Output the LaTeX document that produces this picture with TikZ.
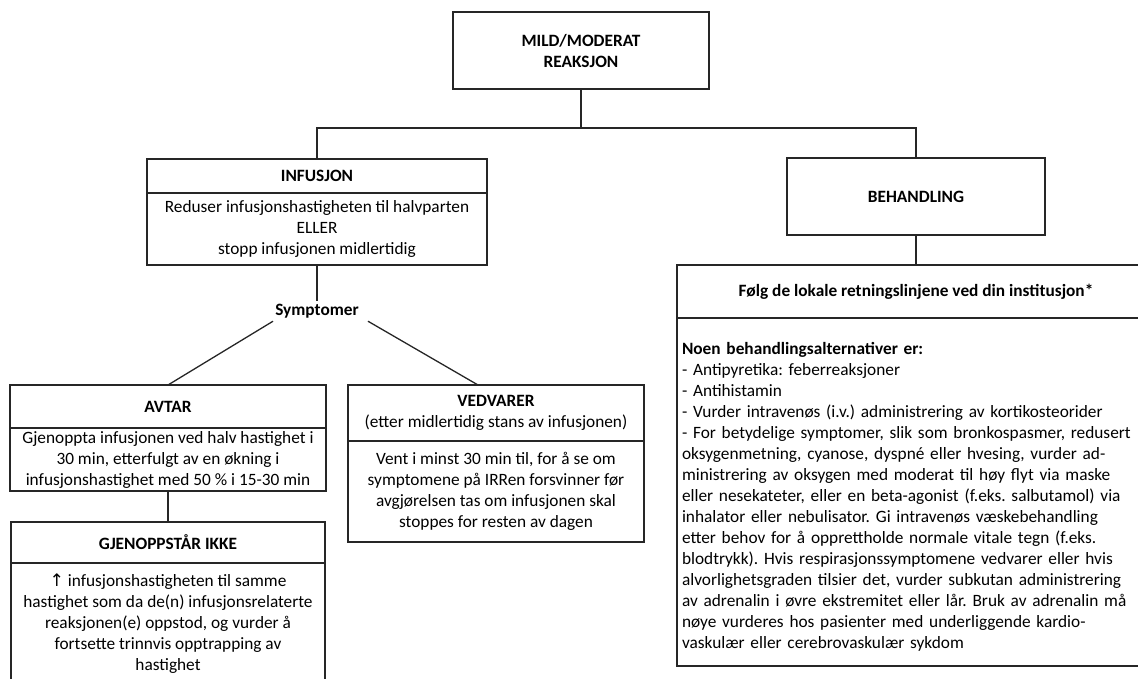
\documentclass[tikz,border=0pt]{standalone}
\usepackage{fontspec}
\setmainfont{Carlito}
\newfontfamily\arrowfont{DejaVu Sans}
\usepackage{tikz}
\usetikzlibrary{positioning}
\frenchspacing

\begin{document}
\begin{tikzpicture}[x=1pt, y=-1pt,
    box/.style={draw=black!85, line width=1.3pt, outer sep=0pt, inner sep=3pt, align=center, font=\fontsize{17.3}{21}\selectfont},
    headbox/.style={box, font=\fontsize{17.3}{21}\selectfont\bfseries},
    link/.style={draw=black!85, line width=1.3pt}]
    \useasboundingbox (0,0) rectangle (1138,679);

    \node [headbox, minimum width=256pt, minimum height=77pt] (reaction) at (581,50.5) {MILD/MODERAT\\REAKSJON};

    \node [headbox, minimum width=340pt, minimum height=34pt] (infusion) at (317,176) {INFUSJON};
    \node [box, below=0pt of infusion, minimum width=340pt, minimum height=72pt] (reduce) {Reduser infusjonshastigheten til halvparten\\ELLER\\stopp infusjonen midlertidig};
    \node [headbox, minimum width=258pt, minimum height=77pt] (treatment) at (916,196.5) {BEHANDLING};

    \node [font=\fontsize{17.3}{21}\selectfont\bfseries, inner sep=3pt] (symptoms) at (317,311) {Symptomer};

    \node [headbox, minimum width=316pt, minimum height=43pt] (decrease) at (168,406.5) {AVTAR};
    \node [box, below=0pt of decrease, minimum width=316pt, minimum height=63pt] (resume) {Gjenoppta infusjonen ved halv hastighet i\\30 min, etterfulgt av en økning i\\infusjonshastighet med 50 \% i 15-30 min};
    \node [headbox, minimum width=314pt, minimum height=41pt] (norecur) at (168,542.5) {GJENOPPSTÅR IKKE};
    \node [box, below=0pt of norecur, minimum width=314pt, minimum height=122pt] (increase) {{\arrowfont ↑} infusjonshastigheten til samme\\hastighet som da de(n) infusjonsrelaterte\\reaksjonen(e) oppstod, og vurder å\\fortsette trinnvis opptrapping av\\hastighet};

    \node [box, minimum width=296pt, minimum height=56pt] (persist) at (496,413) {\textbf{VEDVARER}\\(etter midlertidig stans av infusjonen)};
    \node [box, below=0pt of persist, minimum width=296pt, minimum height=101pt] (wait) {Vent i minst 30 min til, for å se om\\symptomene på IRRen forsvinner før\\avgjørelsen tas om infusjonen skal\\stoppes for resten av dagen};

    \node [headbox, minimum width=478pt, minimum height=53pt] (guidelines) at (916,291.5) {Følg de lokale retningslinjene ved din institusjon*};
    \node [box, below=0pt of guidelines, minimum width=478pt, minimum height=348pt, text width=468pt, align=left] (options) {\rule{0pt}{21pt}\textbf{Noen behandlingsalternativer er:}\\- Antipyretika: feberreaksjoner\\- Antihistamin\\- Vurder intravenøs (i.v.) administrering av kortikosteorider\\- For betydelige symptomer, slik som bronkospasmer, redusert\\oksygenmetning, cyanose, dyspné eller hvesing, vurder ad-\\ministrering av oksygen med moderat til høy flyt via maske\\eller nesekateter, eller en beta-agonist (f.eks. salbutamol) via\\inhalator eller nebulisator. Gi intravenøs væskebehandling\\etter behov for å opprettholde normale vitale tegn (f.eks.\\blodtrykk). Hvis respirasjonssymptomene vedvarer eller hvis\\alvorlighetsgraden tilsier det, vurder subkutan administrering\\av adrenalin i øvre ekstremitet eller lår. Bruk av adrenalin må\\nøye vurderes hos pasienter med underliggende kardio-\\vaskulær eller cerebrovaskulær sykdom};

    \draw [link] (reaction.south) -- ++(0,39) coordinate (bus);
    \draw [link] (infusion.north) |- (bus) -| (treatment.north);
    \draw [link] (reduce.south) -- (symptoms.north);
    \draw [link] ([xshift=-44pt]symptoms.south) -- (decrease.north);
    \draw [link] ([xshift=51pt]symptoms.south) -- ([xshift=-18pt]persist.north);
    \draw [link] (resume.south) -- (norecur.north);
    \draw [link] (treatment.south) -- (guidelines.north);
\end{tikzpicture}
\end{document}
